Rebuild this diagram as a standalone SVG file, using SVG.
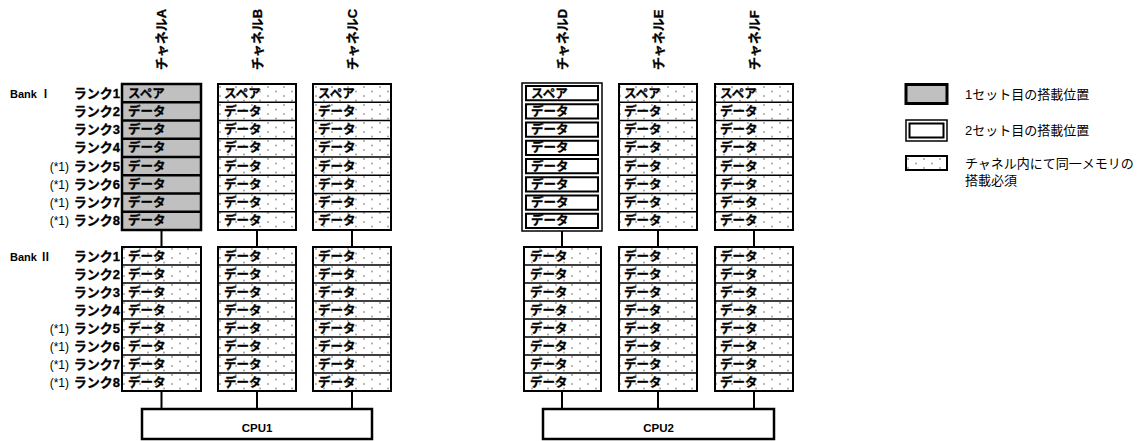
<svg xmlns="http://www.w3.org/2000/svg" width="1137" height="441" viewBox="0 0 1137 441">
<defs>
<pattern id="dots" patternUnits="userSpaceOnUse" width="16" height="9" x="0" y="0">
<rect width="16" height="9" fill="#fff"/>
<circle cx="4" cy="1.5" r="0.9" fill="#999"/>
<circle cx="12" cy="6" r="0.9" fill="#999"/>
</pattern>
<style>
text{font-family:"Liberation Sans","Noto Sans CJK JP",sans-serif;fill:#000}
.c{font-size:12.5px;font-weight:bold;stroke:#000;stroke-width:0.3}
.rl{font-size:13px;font-weight:bold;text-anchor:end;stroke:#000;stroke-width:0.3}
.nt{font-size:12px;text-anchor:end}
.ch{font-size:13px;font-weight:bold;stroke:#000;stroke-width:0.3}
.bk{font-size:11px;font-weight:bold}
.lg{font-size:13px}
.dot{fill:url(#dots);stroke:#000;stroke-width:2}
.gray{fill:#c0c0c0;stroke:#000;stroke-width:2.5}
.sep{stroke:#000;stroke-width:1.5;fill:none}
.sepT{stroke:#000;stroke-width:2.5;fill:none}
.dbo{fill:#fff;stroke:#000;stroke-width:1.5}
.dbi{fill:#fff;stroke:#000;stroke-width:2}
.cpu{fill:#fff;stroke:#000;stroke-width:2.5}
.con{stroke:#000;stroke-width:2;fill:none}
.cpt{font-size:11.5px;font-weight:bold;text-anchor:middle}
</style>
</defs>
<rect width="1137" height="441" fill="#fff"/>

<g id="channel-labels">
<text class="ch" transform="translate(166,70) rotate(-90)">チャネルA</text>
<text class="ch" transform="translate(261.5,70) rotate(-90)">チャネルB</text>
<text class="ch" transform="translate(356.5,70) rotate(-90)">チャネルC</text>
<text class="ch" transform="translate(566.5,70) rotate(-90)">チャネルD</text>
<text class="ch" transform="translate(662.5,70) rotate(-90)">チャネルE</text>
<text class="ch" transform="translate(758.5,70) rotate(-90)">チャネルF</text>
</g>

<g id="row-labels">
<text class="bk" x="10" y="97.5">Bank Ⅰ</text>
<text class="rl" x="120" y="97.5">ランク1</text>
<text class="rl" x="120" y="115.75">ランク2</text>
<text class="rl" x="120" y="134">ランク3</text>
<text class="rl" x="120" y="152.25">ランク4</text>
<text class="nt" x="69" y="170.5">(*1)</text><text class="rl" x="120" y="170.5">ランク5</text>
<text class="nt" x="69" y="188.75">(*1)</text><text class="rl" x="120" y="188.75">ランク6</text>
<text class="nt" x="69" y="207">(*1)</text><text class="rl" x="120" y="207">ランク7</text>
<text class="nt" x="69" y="225.25">(*1)</text><text class="rl" x="120" y="225.25">ランク8</text>
<text class="bk" x="10" y="260.5">Bank Ⅱ</text>
<text class="rl" x="120" y="260.5">ランク1</text>
<text class="rl" x="120" y="278.5">ランク2</text>
<text class="rl" x="120" y="296.5">ランク3</text>
<text class="rl" x="120" y="314.5">ランク4</text>
<text class="nt" x="69" y="332.5">(*1)</text><text class="rl" x="120" y="332.5">ランク5</text>
<text class="nt" x="69" y="350.5">(*1)</text><text class="rl" x="120" y="350.5">ランク6</text>
<text class="nt" x="69" y="368.5">(*1)</text><text class="rl" x="120" y="368.5">ランク7</text>
<text class="nt" x="69" y="386.5">(*1)</text><text class="rl" x="120" y="386.5">ランク8</text>
</g>

<g id="connectors">
<path class="con" d="M161.5 230V247M257 230V247M352 230V247M562 231V247M658 230V247M754 230V247"/>
<path class="con" d="M161.5 391V409M257 391V409M352 391V409M562 391V409M658 391V409M754 391V409"/>
</g>

<!-- Bank I -->
<g id="bank1-chA">
<rect class="gray" x="122" y="84" width="79" height="146"/>
<path class="sepT" d="M122 102.25H201M122 120.5H201M122 138.75H201M122 157H201M122 175.25H201M122 193.5H201M122 211.75H201"/>
<text class="c" x="128" y="97.5">スペア</text>
<text class="c" x="128" y="115.75">データ</text>
<text class="c" x="128" y="134">データ</text>
<text class="c" x="128" y="152.25">データ</text>
<text class="c" x="128" y="170.5">データ</text>
<text class="c" x="128" y="188.75">データ</text>
<text class="c" x="128" y="207">データ</text>
<text class="c" x="128" y="225.25">データ</text>
</g>
<g id="bank1-chB">
<rect class="dot" x="218" y="84" width="78" height="146"/>
<path class="sep" d="M218 102.25H296M218 120.5H296M218 138.75H296M218 157H296M218 175.25H296M218 193.5H296M218 211.75H296"/>
<text class="c" x="224" y="97.5">スペア</text>
<text class="c" x="224" y="115.75">データ</text>
<text class="c" x="224" y="134">データ</text>
<text class="c" x="224" y="152.25">データ</text>
<text class="c" x="224" y="170.5">データ</text>
<text class="c" x="224" y="188.75">データ</text>
<text class="c" x="224" y="207">データ</text>
<text class="c" x="224" y="225.25">データ</text>
</g>
<g id="bank1-chC">
<rect class="dot" x="313" y="84" width="78" height="146"/>
<path class="sep" d="M313 102.25H391M313 120.5H391M313 138.75H391M313 157H391M313 175.25H391M313 193.5H391M313 211.75H391"/>
<text class="c" x="318" y="97.5">スペア</text>
<text class="c" x="318" y="115.75">データ</text>
<text class="c" x="318" y="134">データ</text>
<text class="c" x="318" y="152.25">データ</text>
<text class="c" x="318" y="170.5">データ</text>
<text class="c" x="318" y="188.75">データ</text>
<text class="c" x="318" y="207">データ</text>
<text class="c" x="318" y="225.25">データ</text>
</g>
<g id="bank1-chD">
<rect class="dbo" x="522" y="83" width="80" height="148"/>
<rect class="dbi" x="526" y="86" width="72" height="14.25"/>
<rect class="dbi" x="526" y="104.25" width="72" height="14.25"/>
<rect class="dbi" x="526" y="122.5" width="72" height="14.25"/>
<rect class="dbi" x="526" y="140.75" width="72" height="14.25"/>
<rect class="dbi" x="526" y="159" width="72" height="14.25"/>
<rect class="dbi" x="526" y="177.25" width="72" height="14.25"/>
<rect class="dbi" x="526" y="195.5" width="72" height="14.25"/>
<rect class="dbi" x="526" y="213.75" width="72" height="14.25"/>
<text class="c" x="531" y="97.5">スペア</text>
<text class="c" x="531" y="115.75">データ</text>
<text class="c" x="531" y="134">データ</text>
<text class="c" x="531" y="152.25">データ</text>
<text class="c" x="531" y="170.5">データ</text>
<text class="c" x="531" y="188.75">データ</text>
<text class="c" x="531" y="207">データ</text>
<text class="c" x="531" y="225.25">データ</text>
</g>
<g id="bank1-chE">
<rect class="dot" x="619" y="84" width="78" height="146"/>
<path class="sep" d="M619 102.25H697M619 120.5H697M619 138.75H697M619 157H697M619 175.25H697M619 193.5H697M619 211.75H697"/>
<text class="c" x="624" y="97.5">スペア</text>
<text class="c" x="624" y="115.75">データ</text>
<text class="c" x="624" y="134">データ</text>
<text class="c" x="624" y="152.25">データ</text>
<text class="c" x="624" y="170.5">データ</text>
<text class="c" x="624" y="188.75">データ</text>
<text class="c" x="624" y="207">データ</text>
<text class="c" x="624" y="225.25">データ</text>
</g>
<g id="bank1-chF">
<rect class="dot" x="715" y="84" width="78" height="146"/>
<path class="sep" d="M715 102.25H793M715 120.5H793M715 138.75H793M715 157H793M715 175.25H793M715 193.5H793M715 211.75H793"/>
<text class="c" x="720" y="97.5">スペア</text>
<text class="c" x="720" y="115.75">データ</text>
<text class="c" x="720" y="134">データ</text>
<text class="c" x="720" y="152.25">データ</text>
<text class="c" x="720" y="170.5">データ</text>
<text class="c" x="720" y="188.75">データ</text>
<text class="c" x="720" y="207">データ</text>
<text class="c" x="720" y="225.25">データ</text>
</g>

<!-- Bank II -->
<g id="bank2-chA">
<rect class="dot" x="122" y="247" width="79" height="144"/>
<path class="sep" d="M122 265H201M122 283H201M122 301H201M122 319H201M122 337H201M122 355H201M122 373H201"/>
<text class="c" x="128" y="260.5">データ</text>
<text class="c" x="128" y="278.5">データ</text>
<text class="c" x="128" y="296.5">データ</text>
<text class="c" x="128" y="314.5">データ</text>
<text class="c" x="128" y="332.5">データ</text>
<text class="c" x="128" y="350.5">データ</text>
<text class="c" x="128" y="368.5">データ</text>
<text class="c" x="128" y="386.5">データ</text>
</g>
<g id="bank2-chB">
<rect class="dot" x="218" y="247" width="78" height="144"/>
<path class="sep" d="M218 265H296M218 283H296M218 301H296M218 319H296M218 337H296M218 355H296M218 373H296"/>
<text class="c" x="224" y="260.5">データ</text>
<text class="c" x="224" y="278.5">データ</text>
<text class="c" x="224" y="296.5">データ</text>
<text class="c" x="224" y="314.5">データ</text>
<text class="c" x="224" y="332.5">データ</text>
<text class="c" x="224" y="350.5">データ</text>
<text class="c" x="224" y="368.5">データ</text>
<text class="c" x="224" y="386.5">データ</text>
</g>
<g id="bank2-chC">
<rect class="dot" x="313" y="247" width="78" height="144"/>
<path class="sep" d="M313 265H391M313 283H391M313 301H391M313 319H391M313 337H391M313 355H391M313 373H391"/>
<text class="c" x="318" y="260.5">データ</text>
<text class="c" x="318" y="278.5">データ</text>
<text class="c" x="318" y="296.5">データ</text>
<text class="c" x="318" y="314.5">データ</text>
<text class="c" x="318" y="332.5">データ</text>
<text class="c" x="318" y="350.5">データ</text>
<text class="c" x="318" y="368.5">データ</text>
<text class="c" x="318" y="386.5">データ</text>
</g>
<g id="bank2-chD">
<rect class="dot" x="524" y="247" width="77" height="144"/>
<path class="sep" d="M524 265H601M524 283H601M524 301H601M524 319H601M524 337H601M524 355H601M524 373H601"/>
<text class="c" x="530" y="260.5">データ</text>
<text class="c" x="530" y="278.5">データ</text>
<text class="c" x="530" y="296.5">データ</text>
<text class="c" x="530" y="314.5">データ</text>
<text class="c" x="530" y="332.5">データ</text>
<text class="c" x="530" y="350.5">データ</text>
<text class="c" x="530" y="368.5">データ</text>
<text class="c" x="530" y="386.5">データ</text>
</g>
<g id="bank2-chE">
<rect class="dot" x="619" y="247" width="78" height="144"/>
<path class="sep" d="M619 265H697M619 283H697M619 301H697M619 319H697M619 337H697M619 355H697M619 373H697"/>
<text class="c" x="624" y="260.5">データ</text>
<text class="c" x="624" y="278.5">データ</text>
<text class="c" x="624" y="296.5">データ</text>
<text class="c" x="624" y="314.5">データ</text>
<text class="c" x="624" y="332.5">データ</text>
<text class="c" x="624" y="350.5">データ</text>
<text class="c" x="624" y="368.5">データ</text>
<text class="c" x="624" y="386.5">データ</text>
</g>
<g id="bank2-chF">
<rect class="dot" x="715" y="247" width="78" height="144"/>
<path class="sep" d="M715 265H793M715 283H793M715 301H793M715 319H793M715 337H793M715 355H793M715 373H793"/>
<text class="c" x="720" y="260.5">データ</text>
<text class="c" x="720" y="278.5">データ</text>
<text class="c" x="720" y="296.5">データ</text>
<text class="c" x="720" y="314.5">データ</text>
<text class="c" x="720" y="332.5">データ</text>
<text class="c" x="720" y="350.5">データ</text>
<text class="c" x="720" y="368.5">データ</text>
<text class="c" x="720" y="386.5">データ</text>
</g>

<g id="cpu1">
<rect class="cpu" x="142" y="409" width="230" height="30"/>
<text class="cpt" x="257" y="432">CPU1</text>
</g>
<g id="cpu2">
<rect class="cpu" x="543" y="409" width="231" height="30"/>
<text class="cpt" x="658.5" y="432">CPU2</text>
</g>

<g id="legend">
<rect x="906" y="84.5" width="41" height="19" fill="#c0c0c0" stroke="#000" stroke-width="3"/>
<text class="lg" x="965" y="98.5">1セット目の搭載位置</text>
<rect class="dbo" x="906" y="120" width="41" height="21"/>
<rect class="dbi" x="909.5" y="123.5" width="34" height="14"/>
<text class="lg" x="965" y="135">2セット目の搭載位置</text>
<rect class="dot" x="906" y="156" width="41" height="14"/>
<text class="lg" x="965" y="167.5">チャネル内にて同一メモリの</text>
<text class="lg" x="965" y="184.5">搭載必須</text>
</g>
</svg>
